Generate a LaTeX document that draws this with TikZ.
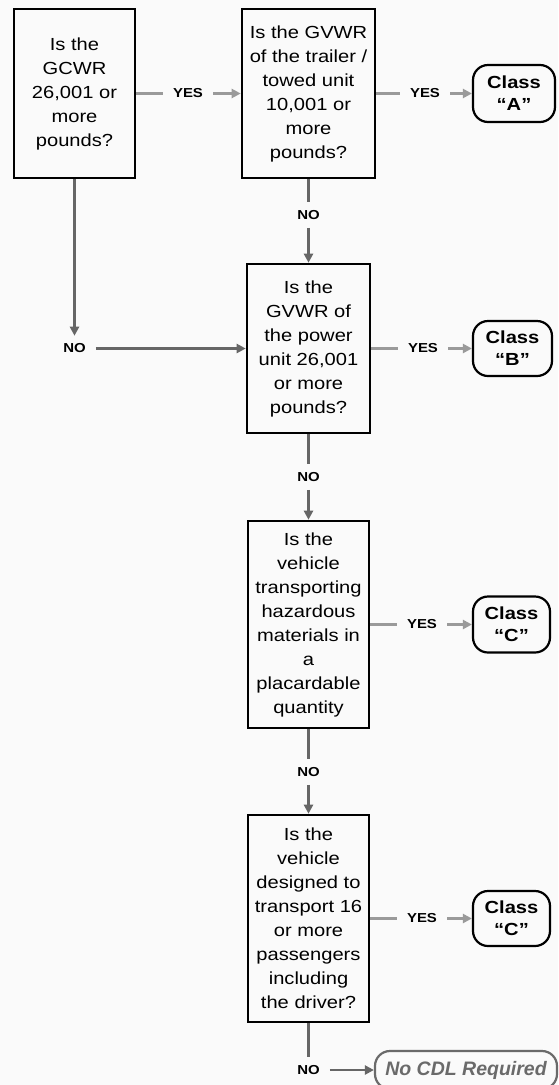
\documentclass[tikz,border=0pt]{standalone}
\usepackage{fontspec}
\setmainfont{Liberation Sans}[FakeStretch=1.15]
\newfontfamily\endfont{Liberation Sans}
\usetikzlibrary{arrows.meta}
\definecolor{bg}{HTML}{FAFAFA}
\definecolor{yesgray}{HTML}{9A9A9A}
\definecolor{nogray}{HTML}{666666}
\definecolor{endgray}{HTML}{6A6A6A}
\begin{document}
\begin{tikzpicture}[x=1pt,y=-1pt,
  qbox/.style={draw=black, line width=2.6pt, align=center, inner sep=0pt,
    font=\fontsize{17.5}{24}\selectfont},
  classbox/.style={draw=black, line width=2.2pt, rounded corners=15pt, align=center,
    inner sep=0pt, font=\bfseries\fontsize{17.5}{22}\selectfont},
  endbox/.style={draw=endgray, line width=2.2pt, rounded corners=15pt, text=endgray,
    inner sep=0pt, font=\endfont\bfseries\itshape\fontsize{19.5}{19.5}\selectfont},
  lbl/.style={font=\bfseries\fontsize{13}{13}\selectfont, inner xsep=10pt, inner ysep=8pt},
  yesline/.style={draw=yesgray, line width=2.2pt},
  noline/.style={draw=nogray, line width=2.4pt},
  tip/.style={-{Triangle[length=9pt,width=9pt]}},
]
\useasboundingbox (0,0) rectangle (558,1085);
\fill[bg] (0,0) rectangle (558,1085);
\clip (0,0) rectangle (558,1085);

% question boxes
\node[qbox, minimum width=121pt, minimum height=169pt] (b1) at (74.5,93.5)
  {Is the\\GCWR\\26,001 or\\more\\pounds?};
\node[qbox, minimum width=133pt, minimum height=169pt] (b2) at (308.5,93.5)
  {Is the GVWR\\of the trailer /\\towed unit\\10,001 or\\more\\pounds?};
\node[qbox, minimum width=123pt, minimum height=169pt] (b3) at (308.5,348.5)
  {Is the\\GVWR of\\the power\\unit 26,001\\or more\\pounds?};
\node[qbox, minimum width=121pt, minimum height=207pt] (b4) at (308.5,624.5)
  {Is the\\vehicle\\transporting\\hazardous\\materials in\\a\\placardable\\quantity};
\node[qbox, minimum width=121pt, minimum height=207pt] (b5) at (308.5,918.5)
  {Is the\\vehicle\\designed to\\transport 16\\or more\\passengers\\including\\the driver?};

% result boxes
\node[classbox, minimum width=82pt, minimum height=57pt] (cA) at (514,93.5) {Class\\“A”};
\node[classbox, minimum width=79pt, minimum height=55pt] (cB) at (512.5,348.5) {Class\\“B”};
\node[classbox, minimum width=77pt, minimum height=56pt] (cC1) at (511.5,624.5) {Class\\“C”};
\node[classbox, minimum width=77pt, minimum height=55pt] (cC2) at (511.5,918.5) {Class\\“C”};
\node[endbox, minimum width=182pt, minimum height=38pt] (nocdl) at (466,1070) {No CDL Required};

% labels
\node[lbl] (y1) at (188,93.5) {YES};
\node[lbl] (y2) at (425,93.5) {YES};
\node[lbl] (n2) at (308.5,215) {NO};
\node[lbl] (n1) at (74.5,348.5) {NO};
\node[lbl] (y3) at (423,348.5) {YES};
\node[lbl] (n3) at (308.5,477) {NO};
\node[lbl] (y4) at (422,624.5) {YES};
\node[lbl] (n4) at (308.5,772) {NO};
\node[lbl] (y5) at (422,918.5) {YES};
\node[lbl] (n5) at (308.5,1070) {NO};

% connectors
\draw[yesline] (b1) -- (y1);
\draw[yesline,tip] (y1) -- (b2);
\draw[yesline] (b2) -- (y2);
\draw[yesline,tip] (y2) -- (cA);
\draw[noline] (b2) -- (n2);
\draw[noline,tip] (n2) -- (b3);
\draw[noline,tip] (b1) -- (n1);
\draw[noline,tip] (n1) -- (b3);
\draw[yesline] (b3) -- (y3);
\draw[yesline,tip] (y3) -- (cB);
\draw[noline] (b3) -- (n3);
\draw[noline,tip] (n3) -- (b4);
\draw[yesline] (b4) -- (y4);
\draw[yesline,tip] (y4) -- (cC1);
\draw[noline] (b4) -- (n4);
\draw[noline,tip] (n4) -- (b5);
\draw[yesline] (b5) -- (y5);
\draw[yesline,tip] (y5) -- (cC2);
\draw[noline] (b5) -- (n5);
\draw[noline,tip] (n5) -- (nocdl);
\end{tikzpicture}
\end{document}
